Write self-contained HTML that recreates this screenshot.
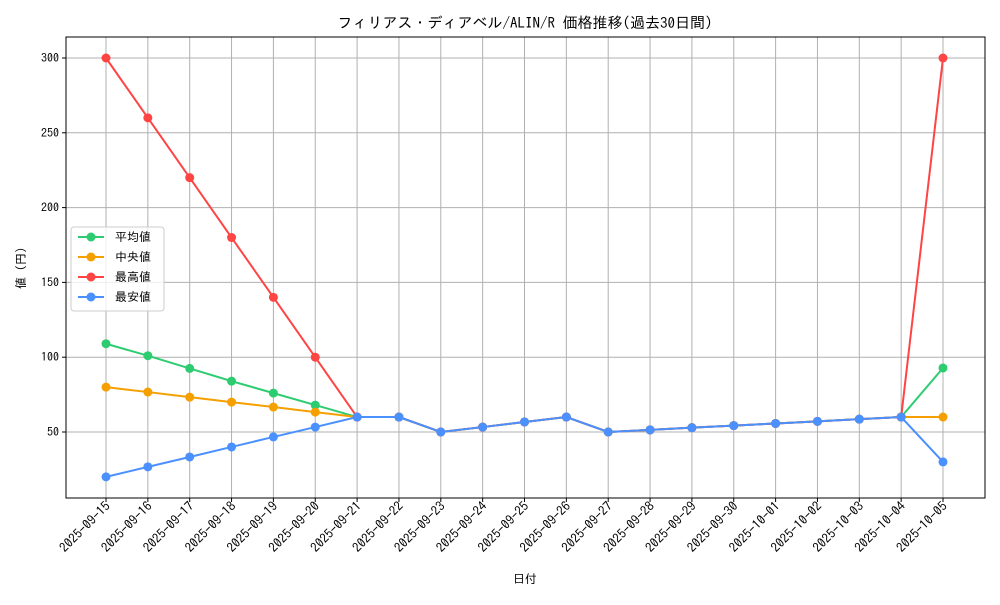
<!DOCTYPE html>
<html><head><meta charset="utf-8"><style>
body{margin:0;background:#fff;}
svg text{font-family:"IPAGothic","Noto Sans CJK JP",sans-serif;fill:#000;}
</style></head><body>
<svg id="chart" width="1000" height="600" xmlns="http://www.w3.org/2000/svg">
<rect width="1000" height="600" fill="#fff"/>
<text x="525" y="28" font-size="15" text-anchor="middle">フィリアス・ディアベル/ALIN/R 価格推移(過去30日間)</text>
<g id="grid"></g>
<g id="axes"></g>
<g id="series"></g>
<text x="525" y="583" font-size="12" text-anchor="middle">日付</text>
<text transform="translate(25,268) rotate(-90)" font-size="12" text-anchor="middle">値 (円)</text>
<g id="legend"></g>
</svg>
<script>
const dates=["2025-09-15","2025-09-16","2025-09-17","2025-09-18","2025-09-19","2025-09-20","2025-09-21","2025-09-22","2025-09-23","2025-09-24","2025-09-25","2025-09-26","2025-09-27","2025-09-28","2025-09-29","2025-09-30","2025-10-01","2025-10-02","2025-10-03","2025-10-04","2025-10-05"];
const meanVals=[109,101,92.5,84,76,68,60,60,50,53.3,56.7,60,50,51.4,52.9,54.3,55.7,57.1,58.6,60,92.8];
const medianVals=[80,76.7,73.3,70,66.7,63.3,60,60,50,53.3,56.7,60,50,51.4,52.9,54.3,55.7,57.1,58.6,60,60];
const maxVals=[300,260,220,180,140,100,60,60,50,53.3,56.7,60,50,51.4,52.9,54.3,55.7,57.1,58.6,60,300];
const minVals=[20,26.7,33.3,40,46.7,53.3,60,60,50,53.3,56.7,60,50,51.4,52.9,54.3,55.7,57.1,58.6,60,30];
const yTicks=[50,100,150,200,250,300];
const seriesNames=["平均値","中央値","最高値","最安値"];
const NS="http://www.w3.org/2000/svg";
const L=66,R=985,T=37,B=498;
const xs=i=>106+i*(943-106)/(dates.length-1);
const ys=v=>432-(v-50)*374/250;
function mk(tag,attrs,parent){const e=document.createElementNS(NS,tag);for(const k in attrs)e.setAttribute(k,attrs[k]);parent.appendChild(e);return e;}
const grid=document.getElementById('grid'),axes=document.getElementById('axes'),ser=document.getElementById('series'),leg=document.getElementById('legend');
dates.forEach((d,i)=>{
 const g=mk('line',{x1:xs(i),x2:xs(i),y1:T,y2:B,stroke:'#b0b0b0','stroke-width':1},grid);
 
 
 mk('line',{x1:xs(i),x2:xs(i),y1:B,y2:B+4,stroke:'#000'},axes);
 const t=mk('text',{transform:`translate(${xs(i)+5},${B+9}) rotate(-45)`,'font-size':13,'text-anchor':'end'},axes);
 t.textContent=d;
 
 
});
yTicks.forEach(v=>{
 const g=mk('line',{x1:L,x2:R,y1:ys(v),y2:ys(v),stroke:'#b0b0b0','stroke-width':1},grid);
 
 
 mk('line',{x1:L-4,x2:L,y1:ys(v),y2:ys(v),stroke:'#000'},axes);
 const t=mk('text',{x:L-7,y:ys(v)+4,'font-size':12,'text-anchor':'end'},axes);
 t.textContent=v;
 
 
});
mk('rect',{x:L,y:T,width:R-L,height:B-T,fill:'none',stroke:'#000','stroke-width':1},axes);
const allSeries=[meanVals,medianVals,maxVals,minVals];
const colors=["#2ecc71","#f5a000","#ff4444","#4a90ff"];
const keys=["mean","median","max","min"];
allSeries.forEach((vals,s)=>{
 const pl=mk('polyline',{points:vals.map((v,i)=>xs(i)+','+ys(v)).join(' '),fill:'none',stroke:colors[s],'stroke-width':2},ser);
 
 
 vals.forEach((v,i)=>{
  const c=mk('circle',{cx:xs(i),cy:ys(v),r:4.5,fill:colors[s]},ser);
  
  
 });
});
mk('rect',{x:71,y:227,width:93,height:84,rx:3,fill:'#fff','fill-opacity':0.8,stroke:'#ccc'},leg);
seriesNames.forEach((n,s)=>{
 const y=237+s*20;
 const g=mk('g',{},leg);
 
 
 mk('line',{x1:78,x2:104,y1:y,y2:y,stroke:colors[s],'stroke-width':2},g);
 mk('circle',{cx:91,cy:y,r:4.5,fill:colors[s]},g);
 const t=mk('text',{x:115,y:y+4,'font-size':12},g);
 t.textContent=n;
});
</script>
</body></html>
